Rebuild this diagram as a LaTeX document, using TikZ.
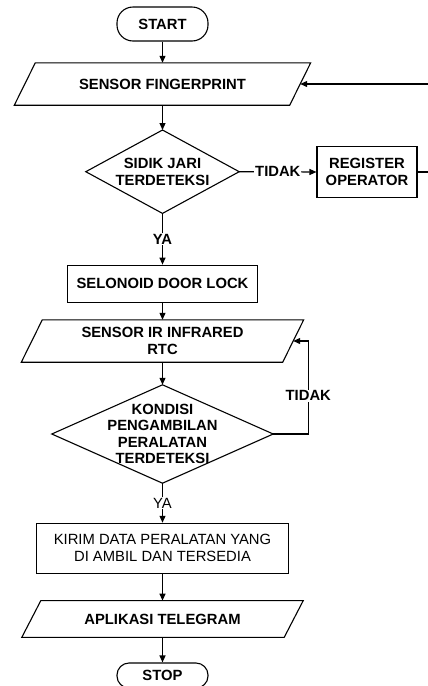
\documentclass[tikz,border=0pt]{standalone}
\usepackage{fontspec}
\setmainfont{Liberation Sans}
\usetikzlibrary{arrows.meta,calc}
\begin{document}
\begin{tikzpicture}[x=1pt,y=-1pt,
  lw/.style={line width=1.1pt},
  arr/.style={lw,-{Triangle[length=7pt,width=6pt]}},
  bf/.style={font=\fontsize{14.8}{17}\selectfont\bfseries, align=center},
  rg/.style={font=\fontsize{14.8}{17}\selectfont, align=center},
  term/.style={bf, draw, lw, rounded corners=16pt, minimum width=91pt, minimum height=34pt, inner sep=0pt},
  proc/.style={draw, lw, rectangle, inner sep=0pt},
  shapebox/.style={rectangle, inner sep=0pt},
  lab/.style={fill=white, inner sep=1pt}
]
\useasboundingbox (0,0) rectangle (428,686);
\clip (0,0) rectangle (428,686);

% nodes
\node[term] (start) at (162.5,24) {START};
\node[shapebox, bf, minimum width=275pt, minimum height=42pt] (sf) at (162.5,84) {SENSOR FINGERPRINT};
\node[shapebox, bf, minimum width=153pt, minimum height=83pt] (d1) at (162.5,171.7) {SIDIK JARI\\TERDETEKSI};
\node[proc, bf, minimum width=100pt, minimum height=50.6pt] (reg) at (367,172) {REGISTER\\OPERATOR};
\node[proc, bf, minimum width=190pt, minimum height=37pt] (sl) at (162.5,283.7) {SELONOID DOOR LOCK};
\node[shapebox, bf, minimum width=261pt, minimum height=42pt] (sir) at (162.5,341) {SENSOR IR INFRARED\\RTC};
\node[shapebox, bf, font=\fontsize{14.8}{16.5}\selectfont\bfseries, minimum width=221pt, minimum height=98pt] (d2) at (162.5,434) {KONDISI\\PENGAMBILAN\\PERALATAN\\TERDETEKSI};
\node[proc, rg, minimum width=251.6pt, minimum height=50pt] (kirim) at (162.5,548.3) {KIRIM DATA PERALATAN YANG\\DI AMBIL DAN TERSEDIA};
\node[shapebox, bf, minimum width=262pt, minimum height=36.3pt] (at) at (162.5,619) {APLIKASI TELEGRAM};
\node[term, minimum height=25pt, rounded corners=12pt] (stop) at (162.5,675.5) {STOP};

% parallelograms
\draw[lw] ([xshift=10.5pt]sf.north west) -- ([xshift=10.5pt]sf.north east) -- ([xshift=-10.5pt]sf.south east) -- ([xshift=-10.5pt]sf.south west) -- cycle;
\draw[lw] ([xshift=10.5pt]sir.north west) -- ([xshift=10.5pt]sir.north east) -- ([xshift=-10.5pt]sir.south east) -- ([xshift=-10.5pt]sir.south west) -- cycle;
\draw[lw] ([xshift=9.5pt]at.north west) -- ([xshift=9.5pt]at.north east) -- ([xshift=-9.5pt]at.south east) -- ([xshift=-9.5pt]at.south west) -- cycle;
% diamonds
\draw[lw] (d1.north) -- (d1.east) -- (d1.south) -- (d1.west) -- cycle;
\draw[lw] (d2.north) -- (d2.east) -- (d2.south) -- (d2.west) -- cycle;

% connectors
\coordinate (c1) at (445,84);
\coordinate (c3) at (308.3,341);
\draw[arr] (start.south) -- (sf.south |- sf.north);
\draw[arr] (sf.south) -- (d1.north);
\draw[arr] (d1.east) -- node[lab, bf]{TIDAK} (reg.west);
\draw[arr] (reg.east) -| (c1) |- (sf.east);
\draw[arr] (d1.south) -- node[lab, bf]{YA} (sl.north);
\draw[arr] (sl.south) -- (sir.north);
\draw[arr] (sir.south) -- (d2.north);
\draw[arr] (d2.east) -| node[pos=0.706, lab, bf]{TIDAK} (c3) |- (sir.east);
\draw[arr] (d2.south) -- node[lab, rg]{YA} (kirim.north);
\draw[arr] (kirim.south) -- (at.north);
\draw[arr] (at.south) -- (stop.north);
\end{tikzpicture}
\end{document}
